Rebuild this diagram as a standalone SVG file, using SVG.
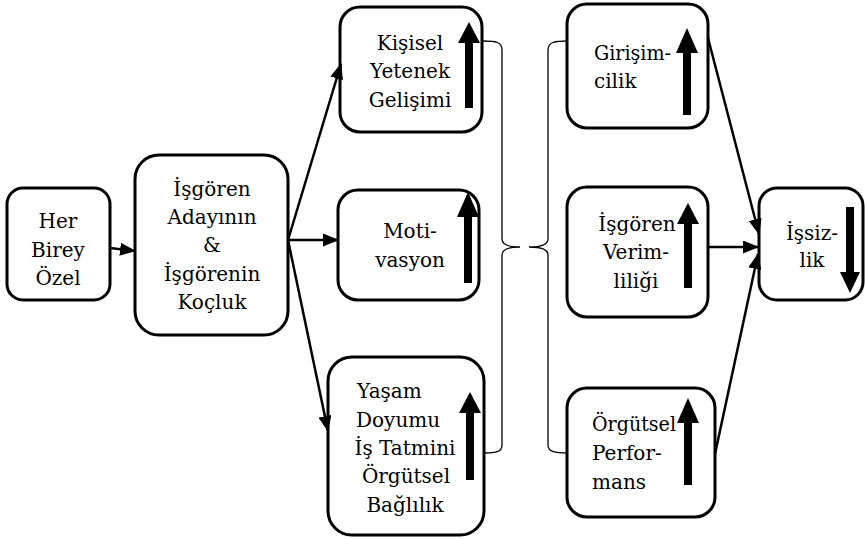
<svg xmlns="http://www.w3.org/2000/svg" width="865" height="539" viewBox="0 0 865 539">
<style>
.box{fill:#fff;stroke:#000;stroke-width:3}
.t{font-family:'DejaVu Serif',serif;font-size:20px;fill:#000}
.m{text-anchor:middle}
.big{fill:#000;stroke:none}
.con{fill:none;stroke:#000;stroke-width:2.5}
.brace{fill:none;stroke:#000;stroke-width:1.3}
</style>
<defs>
<marker id="ah" markerUnits="userSpaceOnUse" markerWidth="16" markerHeight="13" refX="15" refY="6.5" orient="auto">
<path d="M0,0 L16,6.5 L0,13 z" fill="#000"/>
</marker>
</defs>
<rect width="865" height="539" fill="#fff"/>

<g id="her-birey">
<rect class="box" x="7" y="188" width="103" height="112" rx="16"/>
<text class="t m" x="58" y="228">Her</text>
<text class="t m" x="58" y="257">Birey</text>
<text class="t m" x="58" y="285">Özel</text>
</g>

<g id="kocluk">
<rect class="box" x="135" y="155" width="153" height="180" rx="24"/>
<text class="t m" x="212" y="196">İşgören</text>
<text class="t m" x="212" y="224">Adayının</text>
<text class="t m" x="212" y="252">&amp;</text>
<text class="t m" x="212" y="281">İşgörenin</text>
<text class="t m" x="212" y="309">Koçluk</text>
</g>

<g id="kisisel">
<rect class="box" x="340" y="7" width="142" height="125" rx="20"/>
<text class="t m" x="410" y="50">Kişisel</text>
<text class="t m" x="410" y="78">Yetenek</text>
<text class="t m" x="410" y="107">Gelişimi</text>
<polygon class="big" points="469,22 480,43 473,43 473,108 465,108 465,43 458,43"/>
</g>

<g id="motivasyon">
<rect class="box" x="338" y="190" width="141" height="110" rx="20"/>
<text class="t m" x="410" y="238">Moti-</text>
<text class="t m" x="410" y="267">vasyon</text>
<polygon class="big" points="468,192 479,217 472,217 472,283 464,283 464,217 457,217"/>
</g>

<g id="yasam">
<rect class="box" x="328" y="357" width="156" height="178" rx="24"/>
<text class="t" x="357" y="398">Yaşam</text>
<text class="t" x="356" y="427">Doyumu</text>
<text class="t m" x="405" y="455">İş Tatmini</text>
<text class="t m" x="406" y="483">Örgütsel</text>
<text class="t m" x="405" y="512">Bağlılık</text>
<polygon class="big" points="470,392 481,413 474,413 474,480 466,480 466,413 459,413"/>
</g>

<g id="girisimcilik">
<rect class="box" x="567" y="4" width="141" height="124" rx="20"/>
<text class="t" x="594" y="60" textLength="77" lengthAdjust="spacingAndGlyphs">Girişim-</text>
<text class="t" x="594" y="88">cilik</text>
<polygon class="big" points="687,28 698,53 691,53 691,115 683,115 683,53 676,53"/>
</g>

<g id="verimlilik">
<rect class="box" x="567" y="187" width="141" height="130" rx="20"/>
<text class="t m" x="637" y="231">İşgören</text>
<text class="t m" x="636" y="259">Verim-</text>
<text class="t m" x="636" y="288">liliği</text>
<polygon class="big" points="688,203 699,224 692,224 692,288 684,288 684,224 677,224"/>
</g>

<g id="performans">
<rect class="box" x="567" y="388" width="148" height="129" rx="20"/>
<text class="t" x="592" y="431" textLength="84" lengthAdjust="spacingAndGlyphs">Örgütsel</text>
<text class="t" x="592" y="460">Perfor-</text>
<text class="t" x="592" y="489">mans</text>
<polygon class="big" points="688,398 699,423 692,423 692,485 684,485 684,423 677,423"/>
</g>

<g id="issizlik">
<rect class="box" x="759" y="188" width="104" height="112" rx="18"/>
<text class="t m" x="812" y="240">İşsiz-</text>
<text class="t m" x="812" y="267">lik</text>
<polygon class="big" points="846,207 854,207 854,272 860,272 850,293 840,272 846,272"/>
</g>

<g id="connectors">
<line class="con" x1="110" y1="248" x2="135" y2="251" marker-end="url(#ah)"/>
<line class="con" x1="288" y1="240" x2="341" y2="64" marker-end="url(#ah)"/>
<line class="con" x1="288" y1="240" x2="338" y2="240" marker-end="url(#ah)"/>
<line class="con" x1="288" y1="240" x2="328" y2="431" marker-end="url(#ah)"/>
<line class="con" x1="708" y1="38" x2="759" y2="234" marker-end="url(#ah)"/>
<line class="con" x1="708" y1="247" x2="758" y2="247" marker-end="url(#ah)"/>
<line class="con" x1="715" y1="454" x2="758" y2="254" marker-end="url(#ah)"/>
<path class="brace" d="M483,41 C496,41 502,42 502,50 L502,239 C502,245 510,247 520,247 C510,247 502,249 502,255 L502,445 C502,452 496,453 484,453"/>
<path class="brace" d="M568,41 C555,41 548,42 548,50 L548,239 C548,245 540,247 529,247 C540,247 548,249 548,255 L548,445 C548,452 555,453 568,453"/>
</g>
</svg>
